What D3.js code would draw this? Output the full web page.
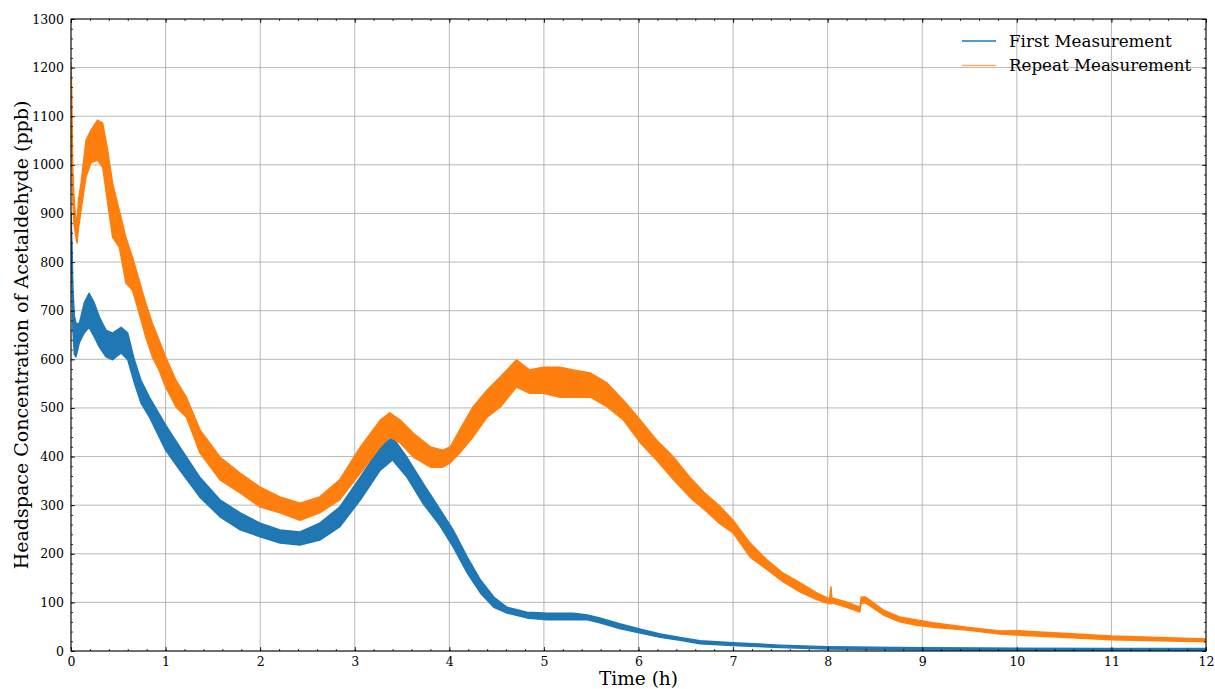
<!DOCTYPE html>
<html>
<head>
<meta charset="utf-8">
<script src="https://cdn.jsdelivr.net/npm/d3@7"></script>
<style>
  html, body { margin: 0; padding: 0; background: #fff; }
  svg { display: block; font-family: "DejaVu Serif", serif; }
</style>
</head>
<body>
<svg id="chart" width="1215" height="689"></svg>
<script>
// ---- Data (band = low/high envelope of the noisy trace) ----
const seriesNames = ["First Measurement", "Repeat Measurement"];
const seriesColors = ["#1f77b4", "#ff7f0e"];

const firstTime = [0, 0.01, 0.02, 0.035, 0.053, 0.088, 0.14, 0.19, 0.246, 0.30, 0.37, 0.44, 0.53, 0.60, 0.67, 0.74, 0.83, 1.0, 1.15, 1.36, 1.575, 1.79, 2.0, 2.21, 2.42, 2.63, 2.84, 3.06, 3.27, 3.40, 3.55, 3.72, 3.90, 4.04, 4.19, 4.33, 4.47, 4.61, 4.82, 5.03, 5.31, 5.46, 5.59, 5.8, 6.02, 6.23, 6.44, 6.65, 7.0, 7.5, 8.0, 9.0, 10.0, 11.0, 12.0];
const firstLow  = [880, 760, 660, 610, 605, 634, 654, 666, 646, 625, 605, 599, 613, 599, 551, 510, 481, 413, 372, 317, 276, 249, 235, 222, 218, 228, 255, 311, 372, 393, 358, 304, 258, 214, 160, 119, 90, 78, 68, 64, 64, 64, 58, 46, 37, 28, 22, 15, 11, 7, 4, 2, 1, 0, 0];
const firstHigh = [900, 840, 750, 690, 674, 674, 716, 736, 716, 687, 660, 654, 666, 654, 599, 557, 522, 465, 420, 358, 311, 284, 263, 249, 245, 263, 296, 358, 420, 440, 399, 346, 292, 249, 193, 146, 111, 90, 80, 78, 78, 74, 68, 56, 45, 35, 28, 21, 17, 12, 9, 7, 6, 5, 5];

const repeatTime = [0, 0.008, 0.018, 0.03, 0.045, 0.063, 0.08, 0.106, 0.159, 0.21, 0.28, 0.335, 0.388, 0.44, 0.51, 0.58, 0.65, 0.72, 0.79, 0.86, 0.93, 1.0, 1.11, 1.22, 1.364, 1.575, 1.787, 2.0, 2.21, 2.42, 2.63, 2.84, 3.06, 3.27, 3.37, 3.48, 3.62, 3.80, 3.93, 4.01, 4.11, 4.25, 4.40, 4.54, 4.71, 4.85, 4.99, 5.17, 5.31, 5.49, 5.67, 5.84, 6.02, 6.19, 6.37, 6.54, 6.70, 6.86, 7.0, 7.18, 7.36, 7.53, 7.71, 7.89, 8.02, 8.035, 8.045, 8.2, 8.34, 8.355, 8.4, 8.59, 8.76, 8.94, 9.11, 9.47, 9.82, 10.0, 11.0, 12.0];
const repeatLow  = [1180, 1020, 930, 880, 860, 839, 870, 907, 975, 1004, 1010, 995, 921, 851, 831, 757, 742, 695, 646, 605, 578, 543, 502, 481, 407, 352, 325, 296, 284, 269, 284, 311, 366, 420, 440, 428, 399, 378, 378, 387, 407, 440, 481, 502, 543, 530, 530, 522, 522, 522, 502, 475, 428, 393, 352, 317, 290, 262, 243, 193, 167, 142, 121, 105, 97, 97, 99, 90, 80, 98, 99, 74, 60, 53, 49, 43, 35, 33, 23, 19];
const repeatHigh = [1210, 1150, 1000, 940, 900, 880, 930, 962, 1051, 1071, 1092, 1086, 1030, 962, 907, 851, 810, 763, 716, 674, 640, 605, 557, 522, 455, 399, 366, 337, 317, 304, 317, 352, 420, 475, 490, 475, 448, 420, 413, 420, 455, 502, 537, 564, 599, 578, 584, 584, 578, 572, 551, 516, 475, 434, 399, 358, 325, 298, 269, 222, 187, 160, 140, 119, 107, 132, 109, 101, 90, 111, 111, 84, 70, 64, 58, 49, 41, 42, 31, 25];

const xTicks = [0, 1, 2, 3, 4, 5, 6, 7, 8, 9, 10, 11, 12];
const yTicks = [0, 100, 200, 300, 400, 500, 600, 700, 800, 900, 1000, 1100, 1200, 1300];
const xLabel = "Time (h)";
const yLabel = "Headspace Concentration of Acetaldehyde (ppb)";

// ---- Layout ----
const W = 1215, H = 689;
const m = { left: 71, right: 9, top: 19, bottom: 38 };
const svg = d3.select("#chart");

const x = d3.scaleLinear().domain([0, 12]).range([m.left, W - m.right]);
const y = d3.scaleLinear().domain([0, 1300]).range([H - m.bottom, m.top]);

// grid
const grid = svg.append("g");
grid.selectAll("line.gx").data(xTicks).join("line")
  .attr("x1", d => x(d)).attr("x2", d => x(d))
  .attr("y1", y(0)).attr("y2", y(1300))
  .attr("stroke", "#b0b0b0").attr("stroke-width", 0.9);
grid.selectAll("line.gy").data(yTicks).join("line")
  .attr("x1", x(0)).attr("x2", x(12))
  .attr("y1", d => y(d)).attr("y2", d => y(d))
  .attr("stroke", "#b0b0b0").attr("stroke-width", 0.9);

// data
function band(time, lo, hi) {
  return time.map((t, i) => ({ t, lo: lo[i], hi: hi[i] }));
}
const series = [band(firstTime, firstLow, firstHigh), band(repeatTime, repeatLow, repeatHigh)];
const area = d3.area().x(d => x(d.t)).y0(d => y(d.lo)).y1(d => y(d.hi));

const clip = svg.append("clipPath").attr("id", "clip").append("rect")
  .attr("x", x(0)).attr("y", y(1300)).attr("width", x(12) - x(0)).attr("height", y(0) - y(1300));
const dataG = svg.append("g").attr("clip-path", "url(#clip)");
series.forEach((s, i) => {
  dataG.append("path").datum(s)
    .attr("d", area)
    .attr("fill", seriesColors[i])
    .attr("stroke", seriesColors[i])
    .attr("stroke-width", 1.4)
    .attr("stroke-linejoin", "round");
});

// axes (ticks inward on all sides)
const fontSize = 12.5;
function styleAxis(g) {
  g.select(".domain").remove();
  g.selectAll(".tick line").attr("stroke", "#000").attr("stroke-width", 0.8);
  g.selectAll(".tick text").attr("fill", "#000").attr("font-size", fontSize).attr("font-family", "DejaVu Serif");
}
const xMinor = d3.range(0, 12.0001, 0.2);
const yMinor = d3.range(0, 1300.001, 20);

const bottom = svg.append("g").attr("transform", `translate(0,${y(0)})`)
  .call(d3.axisBottom(x).tickValues(xTicks).tickFormat(d3.format("d")).tickSize(-4).tickPadding(6.5));
styleAxis(bottom);
svg.append("g").attr("transform", `translate(0,${y(0)})`)
  .call(d3.axisBottom(x).tickValues(xMinor).tickFormat("").tickSize(-2)).call(styleAxis);
svg.append("g").attr("transform", `translate(0,${y(1300)})`)
  .call(d3.axisTop(x).tickValues(xTicks).tickFormat("").tickSize(-4)).call(styleAxis);
svg.append("g").attr("transform", `translate(0,${y(1300)})`)
  .call(d3.axisTop(x).tickValues(xMinor).tickFormat("").tickSize(-2)).call(styleAxis);

const left = svg.append("g").attr("transform", `translate(${x(0)},0)`)
  .call(d3.axisLeft(y).tickValues(yTicks).tickFormat(d3.format("d")).tickSize(-4).tickPadding(7));
styleAxis(left);
svg.append("g").attr("transform", `translate(${x(0)},0)`)
  .call(d3.axisLeft(y).tickValues(yMinor).tickFormat("").tickSize(-2)).call(styleAxis);
svg.append("g").attr("transform", `translate(${x(12)},0)`)
  .call(d3.axisRight(y).tickValues(yTicks).tickFormat("").tickSize(-4)).call(styleAxis);
svg.append("g").attr("transform", `translate(${x(12)},0)`)
  .call(d3.axisRight(y).tickValues(yMinor).tickFormat("").tickSize(-2)).call(styleAxis);

// frame
svg.append("rect")
  .attr("x", x(0)).attr("y", y(1300)).attr("width", x(12) - x(0)).attr("height", y(0) - y(1300))
  .attr("fill", "none").attr("stroke", "#000").attr("stroke-width", 1);

// axis labels
svg.append("text").attr("x", (x(0) + x(12)) / 2).attr("y", 685)
  .attr("text-anchor", "middle").attr("font-size", 18.5).attr("fill", "#000").text(xLabel);
svg.append("text").attr("transform", `translate(28,${(y(0) + y(1300)) / 2}) rotate(-90)`)
  .attr("text-anchor", "middle").attr("font-size", 19).attr("fill", "#000").text(yLabel);

// legend
const leg = svg.append("g");
seriesNames.forEach((name, i) => {
  const ly = 41 + i * 24.5;
  leg.append("line").attr("x1", 962).attr("x2", 996).attr("y1", ly).attr("y2", ly)
    .attr("stroke", seriesColors[i]).attr("stroke-width", 1.4)
    .attr("stroke-opacity", i === 1 ? 0.65 : 1);
  leg.append("text").attr("x", 1009).attr("y", ly).attr("dy", "0.35em")
    .attr("font-size", 16.7).attr("fill", "#000").text(name);
});
</script>
</body>
</html>
